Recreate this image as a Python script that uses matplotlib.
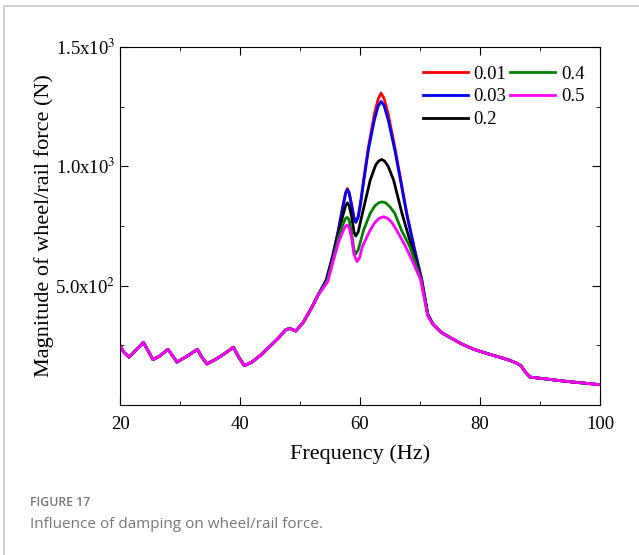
import numpy as np
import matplotlib.pyplot as plt
from matplotlib.ticker import FixedLocator, MultipleLocator
from matplotlib.patches import Rectangle

plt.rcParams['font.family'] = ['Liberation Serif', 'DejaVu Serif']
plt.rcParams['mathtext.fontset'] = 'stix'

# shared low-frequency part (Hz, N)
f_low = [20, 20.6, 21.5, 22.6, 23.9, 24.8, 25.5, 26.6, 28, 28.8, 29.5, 31.2, 32.9,
         33.7, 34.5, 36.2, 37.7, 38.9, 39.8, 40.7, 42, 43.5, 45, 46.5, 47.6, 48.3,
         49.3, 50.5, 52, 53]
v_low = [250, 222, 200, 228, 262, 222, 190, 205, 233, 205, 180, 205, 233,
         198, 172, 195, 220, 242, 200, 165, 180, 210, 246, 283, 315, 321,
         310, 345, 410, 460]

# damping-dependent part around the two resonances
damping = ['0.01', '0.03', '0.2', '0.4', '0.5']
colors = ['red', 'blue', 'black', 'green', 'magenta']
f_peak = {
    '0.01': [54.4, 55.5, 56.4, 57.2, 57.6, 57.9, 58.2, 58.6, 59.0, 59.3, 59.7, 60.1,
             60.6, 61.4, 62.4, 63.0, 63.5, 64.0, 64.7, 65.8, 66.8, 67.8, 69.0, 70.3, 71.3],
    '0.03': [54.4, 55.5, 56.4, 57.2, 57.6, 57.9, 58.2, 58.6, 59.0, 59.3, 59.7, 60.1,
             60.6, 61.4, 62.4, 63.0, 63.5, 64.0, 64.7, 65.8, 66.8, 67.8, 69.0, 70.3, 71.3],
    '0.2': [54.4, 55.5, 56.4, 57.2, 57.6, 57.9, 58.2, 58.6, 59.0, 59.3, 59.7, 60.4,
            61.7, 62.6, 63.1, 63.6, 64.1, 64.7, 65.6, 67.0, 68.6, 70.2, 71.3],
    '0.4': [54.5, 55.5, 56.4, 57.2, 57.6, 57.9, 58.2, 58.6, 59.0, 59.3, 59.7, 60.6,
            61.7, 62.5, 63.1, 63.7, 64.3, 65.0, 65.8, 66.9, 68.3, 70.2, 71.3],
    '0.5': [54.6, 55.5, 56.4, 57.2, 57.6, 57.9, 58.2, 58.6, 59.0, 59.5, 59.9, 60.4,
            61.7, 62.5, 63.2, 63.9, 64.6, 65.3, 66.1, 67.6, 68.9, 70.1, 71.3],
}
v_peak = {
    '0.01': [525, 630, 733, 840, 890, 907, 890, 840, 785, 768, 790, 850,
             942, 1081, 1219, 1280, 1307, 1285, 1219, 1081, 942, 803, 664, 525, 380],
    '0.03': [525, 630, 733, 838, 886, 902, 886, 836, 782, 765, 787, 845,
             935, 1070, 1195, 1250, 1272, 1255, 1195, 1068, 935, 798, 660, 523, 380],
    '0.2': [520, 620, 715, 800, 835, 847, 835, 790, 725, 708, 725, 803,
            942, 1005, 1022, 1029, 1022, 1000, 942, 803, 664, 525, 378],
    '0.4': [520, 610, 700, 760, 782, 786, 775, 720, 650, 633, 650, 733,
            803, 835, 847, 851, 847, 830, 803, 733, 664, 525, 376],
    '0.5': [515, 600, 680, 730, 750, 754, 742, 700, 630, 601, 615, 664,
            733, 765, 782, 789, 782, 765, 733, 664, 594, 525, 372],
}

# shared high-frequency part
f_high = [72.2, 73.5, 75, 77, 79, 81, 83.3, 85, 86.1, 86.8, 87.5, 88.3, 90, 92,
          94, 96, 98, 100]
v_high = [337, 305, 283, 255, 233, 217, 200, 187, 175, 165, 140, 117, 112, 106,
          100, 95, 90, 85]

fig = plt.figure(figsize=(6.39, 5.55), dpi=100)
fig.patches.append(Rectangle((4 / 639, -0.1), 1.2, 1 - 6 / 555 + 0.1,
                             transform=fig.transFigure, fill=False,
                             edgecolor='#c8c8c8', linewidth=1.2))
ax = fig.add_axes([120 / 639, 1 - 405 / 555, 480 / 639, 358 / 555])

for d, c in zip(damping, colors):
    f = f_low + f_peak[d] + f_high
    v = v_low + v_peak[d] + v_high
    ax.plot(f, v, color=c, linewidth=2.0, label=d, solid_joinstyle='round')

ax.set_xlim(20, 100)
ax.set_ylim(0, 1500)
ax.xaxis.set_major_locator(MultipleLocator(20))
ax.xaxis.set_minor_locator(MultipleLocator(10))
ax.yaxis.set_major_locator(FixedLocator([500, 1000, 1500]))
ax.yaxis.set_minor_locator(FixedLocator([250, 750, 1250]))
ax.set_yticklabels(['5.0x10$^2$', '1.0x10$^3$', '1.5x10$^3$'])
ax.tick_params(which='both', direction='in', top=True, right=True, labelsize=13.5)
ax.tick_params(which='major', length=6)
ax.tick_params(which='minor', length=3)
ax.tick_params(axis='x', pad=8)

ax.set_xlabel('Frequency (Hz)', fontsize=16, labelpad=8)
ax.set_ylabel('Magnitude of wheel/rail force (N)', fontsize=16, labelpad=1)

ax.legend(ncol=2, loc='upper right', bbox_to_anchor=(0.995, 0.985), frameon=False,
          fontsize=13.5, handlelength=2.4, handletextpad=0.3, columnspacing=0.2,
          labelspacing=0.3, borderaxespad=0.3)

fig.text(30 / 639, 1 - 503 / 555, 'FIGURE 17', fontsize=8.8, color='#777777',
         family='Open Sans', fontweight='semibold', va='center')
fig.text(30 / 639, 1 - 524 / 555, 'Influence of damping on wheel/rail force.',
         fontsize=11, color='#777777', family='Open Sans', va='center')

fig.savefig('out.png', dpi=100)
